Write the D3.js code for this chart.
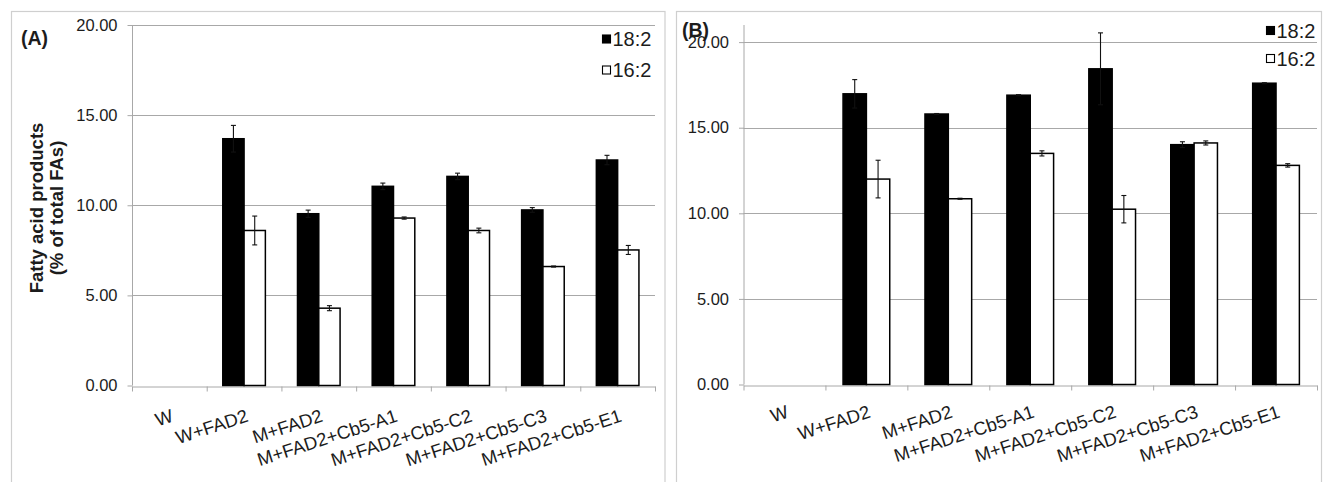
<!DOCTYPE html>
<html>
<head>
<meta charset="utf-8">
<script src="https://cdn.jsdelivr.net/npm/d3@7/dist/d3.min.js"></script>
<style>
  html, body { margin: 0; padding: 0; background: #ffffff; }
  svg { display: block; font-family: "Liberation Sans", Arial, sans-serif; }
  svg text { font-family: "Liberation Sans", Arial, sans-serif; }
</style>
</head>
<body>
<svg id="chart" width="1324" height="482"></svg>
<script>
// Strains / constructs on the x axis
const categories = ["W", "W+FAD2", "M+FAD2", "M+FAD2+Cb5-A1", "M+FAD2+Cb5-C2", "M+FAD2+Cb5-C3", "M+FAD2+Cb5-E1"];
const seriesNames = ["18:2", "16:2"];
const yTickValues = [0, 5, 10, 15, 20];

// Panel (A): fatty acid products, % of total FAs (mean and error)
const a182 = [null, 13.69, 9.53, 11.05, 11.60, 9.74, 12.51];
const a182Err = [null, 0.74, 0.20, 0.18, 0.18, 0.13, 0.26];
const a162 = [null, 8.60, 4.29, 9.29, 8.60, 6.60, 7.52];
const a162Err = [null, 0.80, 0.14, 0.06, 0.13, 0.03, 0.25];

// Panel (B)
const b182 = [null, 16.98, 15.80, 16.90, 18.44, 14.01, 17.60];
const b182Err = [null, 0.83, 0.03, 0.03, 2.10, 0.17, 0.03];
const b162 = [null, 12.00, 10.85, 13.50, 10.24, 14.11, 12.80];
const b162Err = [null, 1.10, 0.03, 0.15, 0.80, 0.12, 0.10];

const svg = d3.select("#chart");
const TEXT = "#1c1c1c";
const GRID = "#a8a8a8";
const FRAME = "#cfcfcf";

function drawPanel(cfg) {
  const g = svg.append("g");

  // outer frame of the panel
  g.append("rect")
    .attr("x", cfg.frame[0]).attr("y", cfg.frame[1])
    .attr("width", cfg.frame[2]).attr("height", cfg.frame[3])
    .attr("fill", "none").attr("stroke", FRAME).attr("stroke-width", 1.2);

  const x = d3.scaleBand().domain(categories).range([cfg.left, cfg.right]).padding(0);
  const xEdge = d3.scaleLinear().domain([0, categories.length]).range([cfg.left, cfg.right]);
  const y = d3.scaleLinear().domain([0, cfg.yMax]).range([cfg.bottom, cfg.top]);

  // horizontal gridlines
  g.append("g").selectAll("line")
    .data(yTickValues.filter(v => v > 0))
    .join("line")
    .attr("x1", cfg.left).attr("x2", cfg.right)
    .attr("y1", d => Math.round(y(d)) + 0.5).attr("y2", d => Math.round(y(d)) + 0.5)
    .attr("stroke", GRID).attr("stroke-width", 1);

  // y axis
  const yAxis = g.append("g")
    .attr("transform", `translate(${cfg.left + 0.5},0)`)
    .call(d3.axisLeft(y).tickValues(yTickValues).tickFormat(d3.format(".2f")).tickSize(5).tickPadding(10));
  yAxis.attr("font-size", 16.5).attr("font-family", "Liberation Sans, Arial, sans-serif");
  yAxis.select(".domain").attr("stroke", GRID).attr("d", `M0,${cfg.top}V${cfg.bottom}`);
  yAxis.selectAll(".tick line").attr("stroke", GRID);
  yAxis.selectAll(".tick text")
    .attr("fill", TEXT).style("font-size", "16.5px");

  // x axis: tick marks at category boundaries
  const xAxis = g.append("g")
    .attr("transform", `translate(0,${Math.round(cfg.bottom) + 0.5})`)
    .call(d3.axisBottom(xEdge).tickValues(d3.range(categories.length + 1)).tickFormat("").tickSize(5).tickSizeOuter(0));
  xAxis.select(".domain").attr("stroke", GRID);
  xAxis.selectAll(".tick line").attr("stroke", GRID);

  // rotated category labels
  g.append("g").selectAll("text")
    .data(categories)
    .join("text")
    .attr("transform", d => `translate(${x(d) + x.bandwidth() / 2 + 1},${cfg.bottom + cfg.labelDrop}) rotate(-18)`)
    .attr("text-anchor", "end")
    .attr("dy", "0.72em")
    .attr("fill", TEXT)
    .style("font-size", "18.5px")
    .text(d => d);

  // grouped bars
  const bw = x.bandwidth() * 0.285;
  const series = [
    { vals: cfg.s1, errs: cfg.e1, fill: "#000000", off: -bw },
    { vals: cfg.s2, errs: cfg.e2, fill: "#ffffff", off: 0 }
  ];
  series.forEach(s => {
    const rows = categories.map((c, i) => ({ c, v: s.vals[i], e: s.errs[i] })).filter(r => r.v != null);
    g.append("g").selectAll("rect")
      .data(rows)
      .join("rect")
      .attr("x", r => x(r.c) + x.bandwidth() / 2 + s.off)
      .attr("y", r => y(r.v))
      .attr("width", bw)
      .attr("height", r => y(0) - y(r.v))
      .attr("fill", s.fill)
      .attr("stroke", "#000")
      .attr("stroke-width", 1.5);

    // error bars
    const eg = g.append("g").attr("stroke", "#111").attr("stroke-width", 1.1);
    rows.forEach(r => {
      const cx = x(r.c) + x.bandwidth() / 2 + s.off + bw / 2;
      const yt = y(r.v + r.e), yb = y(r.v - r.e);
      eg.append("line").attr("x1", cx).attr("x2", cx).attr("y1", yt).attr("y2", yb);
      eg.append("line").attr("x1", cx - 2.5).attr("x2", cx + 2.5).attr("y1", yt).attr("y2", yt);
      eg.append("line").attr("x1", cx - 2.5).attr("x2", cx + 2.5).attr("y1", yb).attr("y2", yb);
    });
  });

  // legend
  const lg = g.append("g");
  seriesNames.forEach((name, i) => {
    const cy = cfg.legend.y + i * cfg.legend.step;
    lg.append("rect")
      .attr("x", cfg.legend.x).attr("y", cy - 4)
      .attr("width", 8).attr("height", 8)
      .attr("fill", i === 0 ? "#000" : "#fff")
      .attr("stroke", "#000").attr("stroke-width", 1.1);
    lg.append("text")
      .attr("x", cfg.legend.x + 10).attr("y", cy)
      .attr("dy", "0.36em")
      .attr("fill", TEXT)
      .style("font-size", "20px")
      .text(name);
  });

  // panel tag
  g.append("text")
    .attr("x", cfg.tag[0]).attr("y", cfg.tag[1])
    .attr("fill", TEXT)
    .style("font-size", "19.5px")
    .style("font-weight", "bold")
    .text(cfg.tagText);

  return g;
}

const gA = drawPanel({
  frame: [11.5, 11.5, 653.5, 480],
  left: 132, right: 655, top: 25, bottom: 385.5, yMax: 20,
  s1: a182, e1: a182Err, s2: a162, e2: a162Err,
  labelDrop: 23,
  legend: { x: 602.5, y: 39, step: 31 },
  tag: [21, 45], tagText: "(A)"
});

drawPanel({
  frame: [676.5, 11.5, 645, 480],
  left: 743.5, right: 1317, top: 25, bottom: 384.5, yMax: 21,
  s1: b182, e1: b182Err, s2: b162, e2: b162Err,
  labelDrop: 20,
  legend: { x: 1266.5, y: 30.5, step: 28 },
  tag: [682, 37], tagText: "(B)"
});

// y-axis title of panel (A)
const title = gA.append("text")
  .attr("transform", "translate(0,208) rotate(-90)")
  .attr("text-anchor", "middle")
  .attr("fill", TEXT)
  .style("font-size", "18.5px")
  .style("font-weight", "bold");
title.append("tspan").attr("x", 0).attr("y", 43).text("Fatty acid products");
title.append("tspan").attr("x", 0).attr("y", 63).text("(% of total FAs)");
</script>
</body>
</html>
